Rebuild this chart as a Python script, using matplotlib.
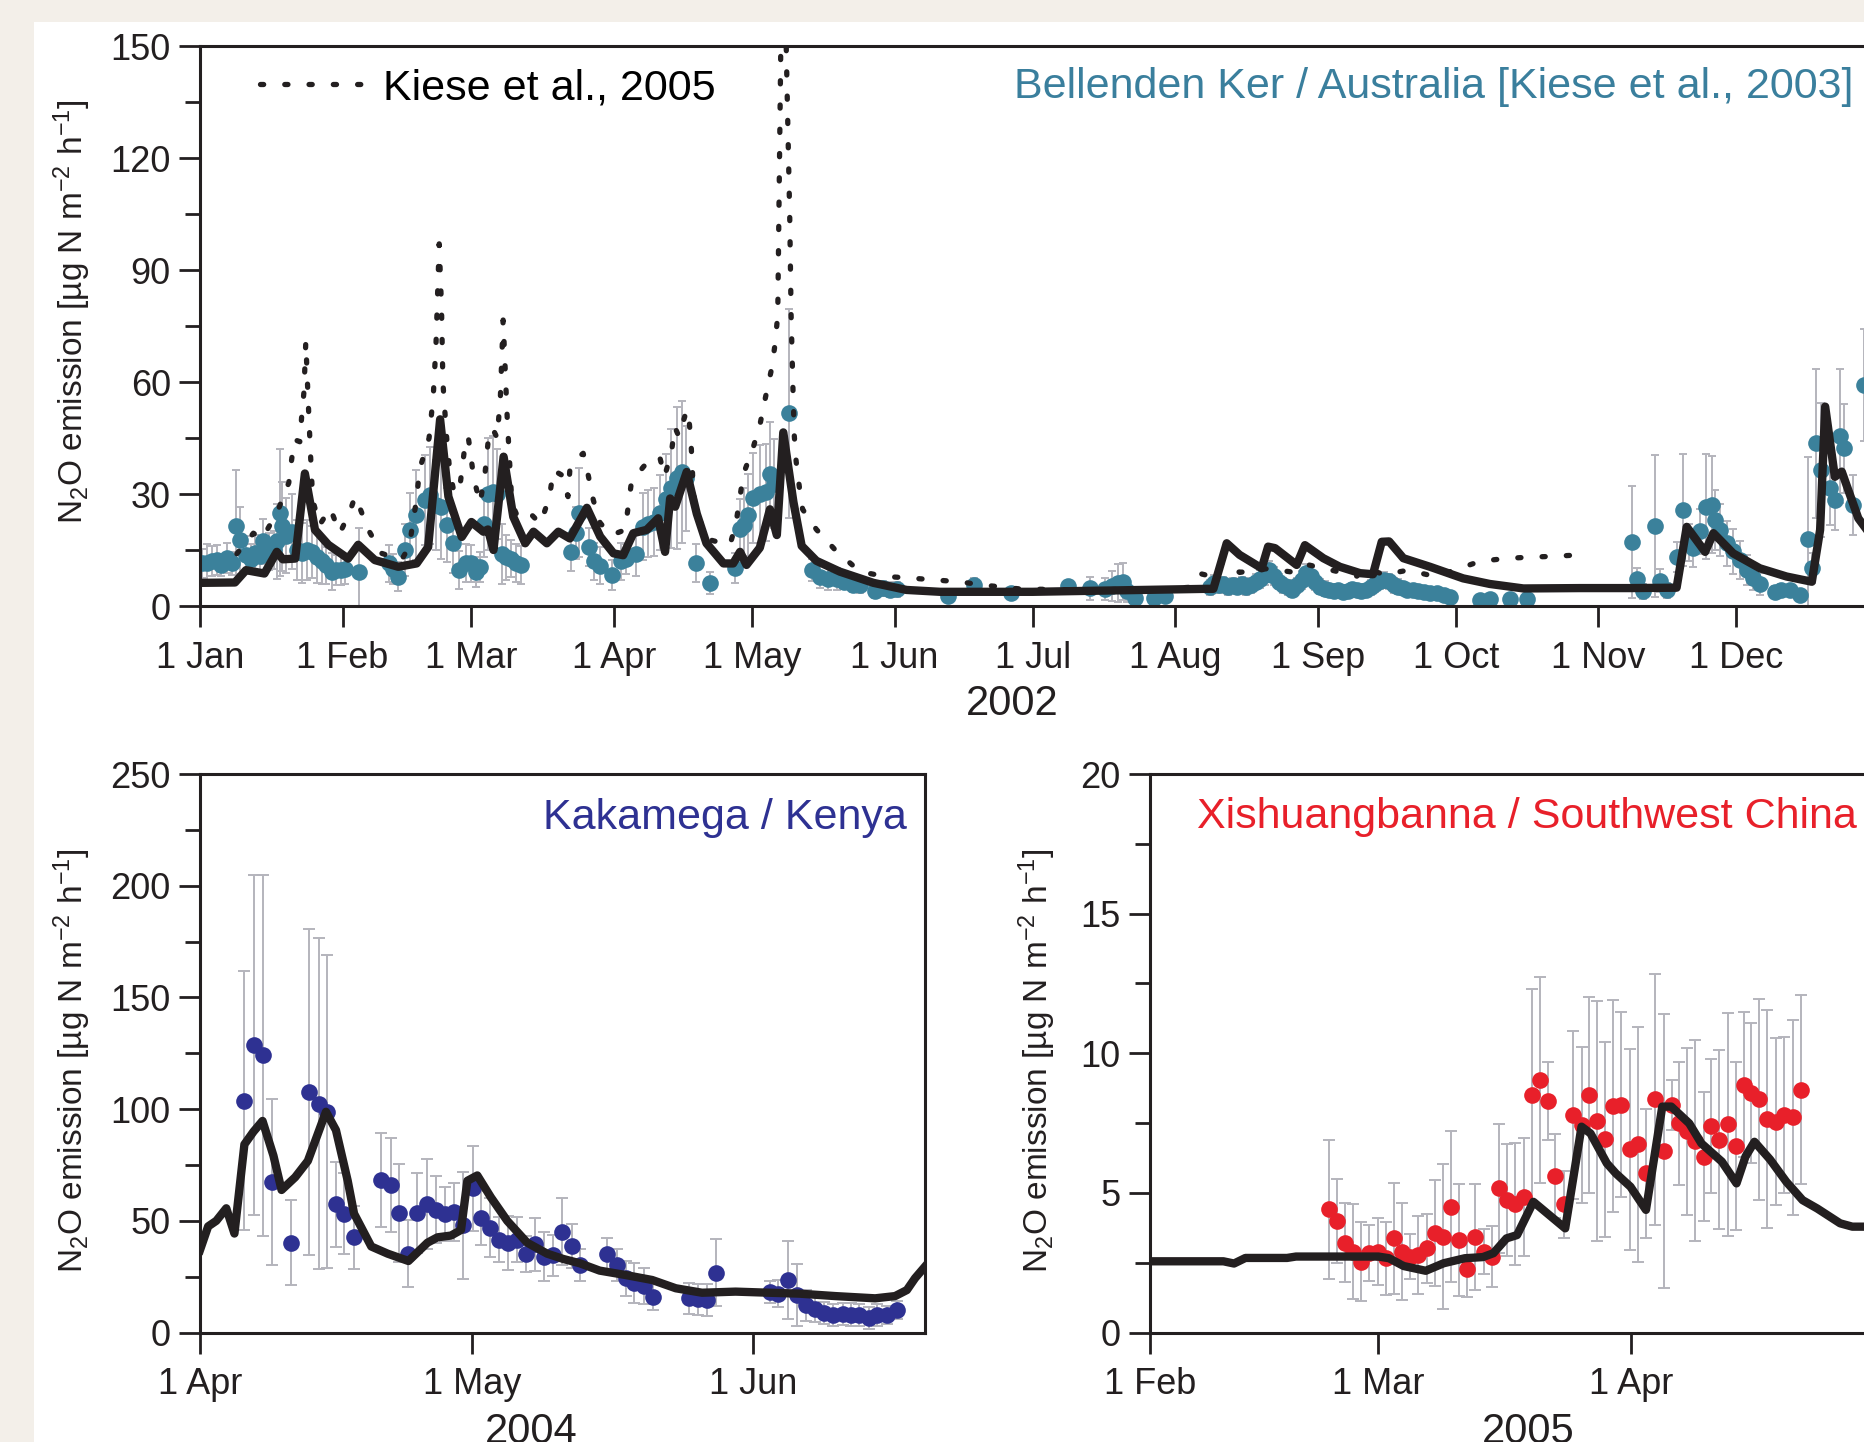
import datetime as dt
import numpy as np
import matplotlib
matplotlib.use("Agg")
import matplotlib.pyplot as plt
import matplotlib.dates as mdates
from matplotlib.patches import Rectangle
from matplotlib.ticker import MultipleLocator, FuncFormatter

plt.rcParams['font.family'] = ['Liberation Sans', 'DejaVu Sans']
plt.rcParams['mathtext.fontset'] = 'custom'
plt.rcParams['mathtext.rm'] = 'Liberation Sans'
plt.rcParams['mathtext.it'] = 'Liberation Sans:italic'
plt.rcParams['mathtext.bf'] = 'Liberation Sans:bold'

# ---------------- Bellenden Ker / Australia, 2002 (day 0 = 1 Jan) ----------------
bk_obs_day = [0.5, 1.6, 2.6, 3.6, 4.6, 5.8, 7.0, 7.8, 8.8, 10.0, 11.0, 12.0, 13.0, 13.8, 14.9, 16.0, 16.7, 17.3,
              17.9, 18.6, 19.9, 21.0, 22.1, 23.2, 24.3, 25.4, 26.5, 27.3, 28.6, 29.6, 30.7, 31.6, 34.6, 41.0, 42.0,
              43.1, 44.6, 45.7, 47.0, 48.9, 50.0, 51.4, 52.5, 53.6, 55.1, 56.2, 57.9, 59.0, 59.9, 60.9, 61.8, 62.7,
              63.7, 64.5, 65.6, 66.6, 67.6, 68.8, 69.8,
              80.7, 81.8, 82.5, 84.5, 85.7, 87.0, 89.6, 91.6, 92.6, 94.8, 96.2, 97.5, 98.6, 100.0, 101.3, 102.5,
              103.6, 104.7, 105.7, 107.8, 110.9,
              116.2, 117.3, 118.2, 119.2, 120.3, 121.8, 123.0, 123.9, 124.7, 128.1, 133.0, 134.8, 136.6, 138.4,
              140.0, 142.0, 143.5, 146.7, 148.5, 150.0, 151.5,
              162.6, 168.3, 176.2, 188.8, 193.5, 196.8, 198.2, 199.6, 200.7, 201.6, 203.2, 207.5, 209.8,
              219.5, 220.5, 221.5, 222.5, 223.5, 224.5, 225.5, 226.5, 227.5, 228.5, 229.5, 230.5, 231.5, 232.5,
              233.5, 234.5, 235.5, 236.5, 237.5, 238.5, 239.5, 240.5, 241.5, 242.5, 243.5, 244.5, 245.5, 246.5,
              247.5, 248.5, 249.5, 250.5, 251.5, 252.5, 253.5, 254.5, 255.5, 256.5, 257.5, 258.5, 259.5, 260.5,
              261.5, 262.5, 263.8, 264.8, 266.0, 267.5, 269.0, 270.5, 271.7,
              278.3, 280.4, 284.8, 288.4,
              311.4, 312.3, 313.8, 316.3, 317.4, 318.9, 321.0, 322.3, 323.6, 324.6, 326.1, 327.5, 328.6, 329.3,
              330.4, 331.9, 333.3, 334.8, 336.2, 337.7, 339.1, 342.4, 343.6, 345.6, 347.8, 349.5, 350.4, 351.3,
              352.4, 354.3, 355.4, 356.5, 357.5, 359.4, 361.7]
bk_obs_val = [11.4, 11.5, 12.0, 12.3, 11.0, 12.8, 11.4, 21.5, 17.6, 13.7, 12.7, 14.1, 13.3, 17.3, 14.6, 15.0, 17.3, 25.0,
              21.3, 18.8, 19.9, 15.0, 14.1, 15.0, 14.5, 13.2, 12.0, 10.9, 9.2, 9.6, 9.6, 10.0, 9.0, 11.4, 10.0,
              7.9, 15.0, 20.4, 24.3, 28.4, 29.7, 27.0, 26.5, 21.7, 16.8, 9.6, 11.5, 11.4, 9.0, 10.5, 22.0, 30.0,
              30.5, 30.0, 14.0, 13.0, 12.7, 11.5, 11.0,
              14.5, 19.5, 25.0, 15.8, 12.0, 10.8, 8.4, 12.0, 12.5, 14.0, 21.2, 22.0, 22.5, 25.0, 28.7, 31.5,
              34.2, 35.9, 34.2, 11.5, 6.1,
              10.2, 20.7, 21.7, 24.3, 29.0, 30.0, 30.5, 35.3, 32.8, 51.6, 9.7, 7.7, 7.2, 7.2,
              6.5, 5.7, 5.5, 4.1, 4.8, 4.4, 4.5,
              2.8, 5.6, 3.4, 5.3, 4.7, 4.5, 5.3, 6.2, 6.5, 4.0, 2.2, 2.2, 2.6,
              5.0, 6.2, 5.5, 5.8, 5.0, 5.6, 5.2, 5.8, 5.0, 5.5, 6.5, 7.2, 8.2, 9.6,
              8.0, 6.5, 5.6, 5.0, 4.4, 5.5, 7.0, 8.8, 8.0, 6.3, 5.2, 4.6, 4.2, 4.0,
              4.4, 3.8, 4.0, 4.6, 4.2, 3.9, 4.4, 5.0, 5.8, 6.6, 7.0, 6.6, 5.6, 5.2,
              4.8, 4.4, 4.2, 4.0, 3.8, 3.6, 3.4, 3.0, 2.4,
              1.6, 2.0, 1.8, 2.0,
              17.2, 7.2, 3.9, 21.4, 6.8, 4.2, 13.2, 25.6, 17.0, 15.5, 20.0, 26.6, 27.1, 23.0,
              20.4, 16.8, 14.6, 12.3, 9.6, 7.4, 5.9, 3.8, 4.4, 4.2, 2.9, 17.9, 10.1, 43.6,
              36.5, 31.6, 28.4, 45.5, 42.2, 27.1, 59.2]
bk_obs_err = [4, 5, 4, 4, 3, 4, 3, 15, 9, 5, 4, 5, 5, 6, 5, 5, 10, 17,
              12, 10, 10, 8, 8, 8, 7, 7, 6, 5, 5, 4, 4, 4, 12, 5, 4,
              4, 7, 10, 12, 12, 13, 12, 14, 10, 8, 5, 5, 5, 4, 4, 9, 15,
              15, 12, 8, 6, 5, 5, 5,
              5, 7, 12, 5, 5, 5, 4, 5, 4, 6, 9, 9, 9, 10, 12, 16,
              19, 19, 14, 5, 3,
              4, 8, 10, 11, 12, 13, 13, 14, 12, 28, 3, 3, 3, 3,
              2, 2, 2, 2, 2, 2, 2,
              1.5, 2, 1.5, 1.5, 3, 3, 4, 5, 5, 3, 1.5, 1.5, 1.5,
              2, 2, 2, 2, 2, 2, 2, 2, 2, 2, 2, 2.5, 2.5, 2.5,
              2.5, 2, 2, 2, 2, 2, 2.5, 2.5, 2.5, 2, 2, 2, 1.5, 1.5,
              1.5, 1.5, 1.5, 1.5, 1.5, 1.5, 1.5, 2, 2, 2, 2, 2, 2, 2,
              1.5, 1.5, 1.5, 1.5, 1.5, 1.5, 1.5, 1, 1,
              1, 1, 1, 1,
              15, 3, 2, 19, 3, 2, 4, 15, 5, 5, 6, 14, 13, 8,
              7, 6, 6, 5, 4, 3, 3, 1.5, 1.5, 1.5, 1.5, 22, 4, 20,
              18, 10, 8, 18, 12, 8, 15]

bk_model_day = [0, 7.6, 10, 14, 16.7, 18, 20.7, 22.8, 25, 27.9, 32.2, 34.4, 38, 43.1, 47.1, 49.6, 52.2, 54, 56.9,
                59, 61.6, 62.6, 63.8, 66, 68.1, 70.7, 72.5, 75.4, 77.9, 80.4, 84.1, 87, 89.9, 92, 94.2, 97.1,
                99.6, 101.1, 102.2, 103.3, 105.8, 108, 110.1, 113.8, 115.9, 117.4, 118.8, 121.7, 123.9, 125.4,
                126.8, 129, 130.8, 134, 139.1, 146.4, 153.6, 160.9, 181, 200, 219, 220.3, 223.2, 226, 230.8,
                232.2, 233.7, 238.4, 240.2, 244.2, 247.8, 252.2, 255, 256.9, 258.5, 261.6, 267.4, 274.6, 280.4,
                287.7, 300, 310.9, 321, 323.2, 327.2, 329, 333.3, 339.1, 344.9, 350.4, 352.2, 353.3, 355.4,
                356.9, 360.5, 362, 365]
bk_model_val = [6.2, 6.3, 9.6, 8.7, 14.5, 12.5, 12.7, 35.5, 20.4, 16.4, 12.7, 16.4, 12.3, 10.5, 11.4, 15.8, 50, 29.3,
                18.5, 22.5, 19.9, 20.5, 15, 40, 23.9, 16.8, 19.9, 16.8, 19.9, 18.1, 26.3, 18.6, 14.1, 13.6, 19.5,
                20.4, 23.5, 14.5, 28.8, 26.6, 35.9, 24.7, 16.8, 11.4, 11.4, 14.5, 11.0, 15.6, 25.9, 19.0,
                46.5, 27.9, 16.1, 12.1, 9.2, 6.2, 4.3, 3.8, 3.8, 4.2, 4.6, 4.6, 16.8, 13.7, 10.1,
                15.9, 15.5, 11.0, 16.3, 12.8, 10.5, 8.8, 8.5, 17.2, 17.3, 12.8, 10.5, 7.4, 5.9,
                4.7, 4.8, 4.8, 4.9, 21.2, 14.5, 19.5, 14.1, 10.1, 7.9, 6.5, 20.4, 53.4, 34.6,
                36.0, 23.5, 21.0, 20.0]

kiese05_day = [8, 10, 11.6, 13.5, 15.2, 16.7, 18, 19.3, 19.9, 20.5, 21.7, 22.1, 22.6, 23, 23.5, 24, 24.5, 26, 28.3,
               30.4, 32.5, 33.7, 34.4, 36.6, 39.5, 43.8, 45.5, 47, 47.8, 48.6, 49.8, 50.7, 51.3, 51.7, 52, 52.5,
               52.8, 53.6, 54.3, 55.3, 56.6, 57.5, 58.3, 58.8, 59.5, 60.9, 62, 62.7, 63.6, 64.6, 65.3, 65.9, 66.4,
               66.8, 67.2, 67.8, 69, 71.4, 74, 76, 76.8, 78.6, 80, 80.4, 81.5, 83.3, 84.4, 85.5, 87, 89.5, 92.4,
               93.1, 93.8, 96.4, 98.5, 100, 101, 102.5, 103.2, 104.1, 105.8, 106.3, 106.7, 107, 107.2, 108, 110.9,
               115.2, 116.5, 117.4, 118.1, 120.3, 121.8, 123, 124.2, 125, 125.6, 126.4, 127.2, 127.6, 128.2,
               128.5, 128.9, 129.2, 129.6, 130.3, 131, 134, 138.4, 143.5, 149, 154.4, 159.5, 165, 170.3, 178, 190,
               210, 215, 217, 220, 222.5, 226, 232, 238, 241, 246, 251.5, 253, 257.5, 262.6, 268.5, 273.2, 278.3,
               283.7, 289, 294.3, 299.9]
kiese05_val = [14, 17, 19.5, 18, 21.7, 24.8, 29, 33, 39, 44.6, 44, 50.7, 57.4, 70.8, 55.6, 41.3, 28.4, 21.7, 26.2,
               19.5, 25, 29.3, 27.4, 20.4, 14.1, 12.3, 16, 28, 37, 40, 45, 56, 70, 85, 97, 80,
               60, 45.4, 36, 30, 33, 42, 45.4, 41, 34.2, 27.5, 36, 44.9, 47.6, 45, 56, 76.6, 62,
               50, 40.9, 27.5, 24, 25.3, 22, 29.3, 36.4, 35.1, 29.3, 36.4, 39, 40.9, 35, 28.4, 22.2, 19, 20.4,
               26.7, 33.3, 37.3, 40, 39.6, 34.7, 41.3, 48, 45.4, 52.5, 50, 44.5, 38, 31, 24.3, 17.7,
               16.3, 22, 29.3, 35.2, 42.6, 49, 56.3, 63.2, 70, 78, 165, 165, 140, 104.5,
               78, 58.3, 45.5, 38.7, 31.8, 25.9, 20.5, 14.6, 9.2, 7.9, 7.5, 7.0, 6.5, 5.6, 4.6, 4.3,
               4.6, 5.0, 8.8, 7.9, 12, 9, 10, 9, 11, 9.6, 8.0, 10.2, 8.4, 9.6, 7.9, 9.8, 12,
               12.7, 13.1, 13.3, 13.7]

# ---------------- Kakamega / Kenya, 2004 (day 0 = 1 Apr) ----------------
kk_obs_day = [4.9, 6.0, 6.9, 8.0, 10.0, 12.0, 13.1, 14.0, 15.0, 15.9, 17.0, 20.0, 21.1, 22.0, 23.0, 24.0, 25.0,
              26.0, 27.0, 28.0, 29.0, 30.1, 31.0, 32.0, 33.0, 34.0, 35.0, 36.0, 37.0, 38.0, 39.0, 40.0, 41.0, 41.9,
              44.9, 46.0, 47.0, 47.9, 49.0, 50.0, 54.0, 55.0, 56.0, 56.9, 62.9, 63.8, 64.9, 65.9, 66.9, 67.9,
              68.9, 69.8, 70.9, 71.8, 72.7, 73.8, 74.7, 75.8, 76.9]
kk_obs_val = [103.7, 128.6, 124.0, 67.4, 40.2, 107.7, 102.4, 98.8, 57.3, 53.2, 42.6, 68.2, 66.2, 53.5, 35.3, 53.5,
              57.6, 55.0, 53.0, 54.0, 48.0, 64.6, 51.2, 47.0, 41.5, 40.2, 41.5, 35.3, 39.4, 34.0, 34.5, 45.1,
              38.7, 30.2, 35.1, 30.2, 24.2, 22.0, 20.8, 16.0, 15.3, 14.8, 14.5, 26.7, 18.2, 17.4, 23.4, 16.7,
              12.2, 10.7, 8.8, 7.7, 8.4, 8.0, 7.7, 6.6, 7.7, 7.7, 9.9]
kk_obs_err = [58, 76, 81, 37, 19, 73, 74, 70, 19, 18, 14, 21, 21, 22, 15, 18, 20, 15, 12, 13, 24, 19, 12, 13, 10,
              12, 10, 8, 12, 11, 9, 15, 10, 7, 7, 7, 8, 9, 8, 6, 7, 7, 7, 15, 5, 6, 17.5, 14, 7, 6, 5, 5, 5, 5,
              5, 5, 5, 4, 4]
kk_model_day = [0, 0.9, 1.8, 2.9, 3.8, 4.9, 5.9, 6.9, 8.1, 9.0, 10.5, 11.9, 13.9, 15.0, 16.3, 17.0, 18.9, 20.7,
                23.0, 25.1, 26.2, 27.7, 28.8, 29.5, 30.6, 32.1, 33.9, 36.1, 38.3, 40.1, 41.9, 44.1, 47, 49.9,
                52.5, 55.4, 59.1, 62.8, 66.1, 70.1, 74.5, 76.7, 78, 78.9, 80]
kk_model_val = [36.9, 47.5, 50, 55.6, 44.3, 84.2, 89.9, 94.7, 79.2, 63.8, 69.5, 76.8, 98.8, 90.6, 67.9, 53.2, 38.5,
                35.3, 32, 40.2, 42.6, 43.4, 45.9, 67.9, 70.3, 60.5, 50, 40.2, 35.3, 32.9, 31, 27.7, 25.7, 23.5,
                19.8, 17.8, 18.3, 17.8, 17.4, 16.3, 15.3, 16.3, 19, 24.3, 29.5]

# ---------------- Xishuangbanna / Southwest China, 2005 (day 0 = 1 Feb) ----------------
xs_obs_day = [22.0, 22.9, 23.9, 24.9, 25.9, 26.9, 28.0, 28.9, 29.9, 30.9, 31.9, 32.8, 33.9, 34.9, 35.9, 36.9,
              37.9, 38.9, 39.8, 40.9, 41.9, 42.8, 43.8, 44.8, 45.8, 46.8, 47.8, 48.8, 49.7, 50.8, 51.8, 52.9,
              53.8, 54.8, 55.8, 56.8, 57.8, 58.8, 59.8, 60.8, 61.9, 63.0, 64.0, 64.9, 65.8, 66.8, 67.9, 68.8,
              69.8, 70.8, 71.8, 72.8, 73.7, 74.7, 75.6, 76.7, 77.7, 78.8, 79.8]
xs_obs_val = [4.41, 4.00, 3.22, 2.90, 2.54, 2.84, 2.90, 2.66, 3.37, 2.90, 2.72, 2.78, 3.01, 3.55, 3.43, 4.50,
              3.31, 2.26, 3.43, 2.90, 2.72, 5.16, 4.74, 4.60, 4.85, 8.50, 9.04, 8.30, 5.60, 4.60, 7.79, 7.43,
              8.50, 7.57, 6.92, 8.10, 8.16, 6.56, 6.74, 5.70, 8.35, 6.50, 8.14, 7.49, 7.20, 6.86, 6.30, 7.40,
              6.90, 7.45, 6.68, 8.87, 8.57, 8.35, 7.64, 7.55, 7.79, 7.70, 8.70]
xs_obs_err = [2.5, 1.5, 1.4, 1.7, 1.4, 1.0, 1.2, 1.3, 2.0, 1.75, 0.8, 1.4, 1.25, 1.9, 2.6, 2.7,
              2.0, 1.0, 1.9, 0.8, 1.1, 2.3, 2.0, 2.2, 2.1, 3.8, 3.7, 1.4, 1.5, 1.2, 3.0, 2.8,
              3.5, 4.3, 3.5, 3.8, 3.3, 3.6, 4.2, 2.3, 4.5, 4.9, 0.9, 2.2, 3.0, 3.6, 2.3, 2.4,
              3.2, 4.0, 3.0, 2.6, 2.5, 3.6, 3.9, 3.0, 2.8, 3.5, 3.4]
xs_model_day = [0, 6, 9, 10.3, 11.7, 16.8, 17.9, 28, 29.3, 31.1, 33.8, 36, 38.6, 40.8, 42.1, 43.7, 45, 47, 50.9,
                52.9, 54, 56, 57.1, 58.9, 60.8, 62.8, 63.9, 66.1, 67.6, 70.1, 71.9, 73, 74.1, 76, 78, 80, 81.8,
                84.6, 86.1, 89]
xs_model_val = [2.55, 2.55, 2.55, 2.47, 2.67, 2.67, 2.72, 2.72, 2.66, 2.38, 2.21, 2.48, 2.66, 2.7, 2.84, 3.37,
                3.49, 4.68, 3.73, 7.37, 7.13, 6.06, 5.7, 5.22, 4.39, 8.09, 8.09, 7.49, 6.77, 6.12, 5.34, 6.3,
                6.83, 6.2, 5.4, 4.74, 4.44, 3.91, 3.79, 3.79]

# month ticks shown on each panel (first day of month)
bk_ticks = [(2002, m) for m in range(1, 13)]
kk_ticks = [(2004, 4), (2004, 5), (2004, 6)]
xs_ticks = [(2005, 2), (2005, 3), (2005, 4)]

ylabel = 'N$_2$O emission [µg N m$^{-2}$ h$^{-1}$]'
ink = '#231f20'
bar_grey = '#b4b4bc'


def to_num(start, days):
    return mdates.date2num(start) + np.asarray(days, dtype=float)


def month_fmt(x, pos):
    d = mdates.num2date(x)
    return f"{d.day} {d.strftime('%b')}"


def style_axes(ax, start, ndays, ticks, ymax, ymajor, yminor):
    ax.set_xlim(to_num(start, 0), to_num(start, ndays))
    ax.set_ylim(0, ymax)
    ax.set_xticks([mdates.date2num(dt.date(y, m, 1)) for y, m in ticks])
    ax.xaxis.set_major_formatter(FuncFormatter(month_fmt))
    ax.yaxis.set_major_locator(MultipleLocator(ymajor))
    ax.yaxis.set_minor_locator(MultipleLocator(yminor))
    for s in ax.spines.values():
        s.set_linewidth(2.2)
        s.set_color(ink)
    ax.tick_params(which='major', direction='out', length=15, width=2, labelsize=26, pad=6, colors=ink)
    ax.tick_params(axis='x', which='major', pad=10)
    ax.tick_params(which='minor', direction='out', length=11, width=2, colors=ink)
    ax.tick_params(axis='x', which='minor', length=0)
    ax.set_facecolor('white')


def draw_obs(ax, x, y, err, color, cap):
    ax.errorbar(x, y, yerr=err, fmt='none', ecolor=bar_grey, elinewidth=1.4, capsize=cap, capthick=1.4, zorder=1)
    ax.plot(x, y, 'o', color=color, ms=12, mec='none', zorder=2)


fig = plt.figure(figsize=(18.64, 14.42), dpi=100, facecolor='#f3efe9')
fig.patches.append(Rectangle((34 / 1864, 0), 1, 1 - 22 / 1442, transform=fig.transFigure,
                             facecolor='white', edgecolor='none', zorder=-5))

# ---- top panel ----
start_bk = dt.date(2002, 1, 1)
ax1 = fig.add_axes([200 / 1864, 1 - 606 / 1442, 1679 / 1864, 560 / 1442])
style_axes(ax1, start_bk, 365, bk_ticks, 150, 30, 15)
draw_obs(ax1, to_num(start_bk, bk_obs_day), bk_obs_val, bk_obs_err, '#3b819b', 3)
ax1.plot(to_num(start_bk, bk_model_day), bk_model_val, color=ink, lw=6, solid_joinstyle='round', zorder=3)
kl, = ax1.plot(to_num(start_bk, kiese05_day), kiese05_val, color=ink, lw=3.8, dashes=(0.6, 4.0),
               dash_capstyle='round', zorder=4)
ax1.legend([kl], ['Kiese et al., 2005'], loc='center left', bbox_to_anchor=(0.0357, 0.924), frameon=False,
           fontsize=31, handlelength=2.45, handletextpad=0.4, borderpad=0, borderaxespad=0)
ax1.text(0.9848, 0.908, 'Bellenden Ker / Australia [Kiese et al., 2003]', transform=ax1.transAxes,
         ha='right', va='baseline', fontsize=31, color='#3a7f9d')
ax1.text(0.484, -0.195, '2002', transform=ax1.transAxes, ha='center', va='baseline', fontsize=30, color=ink)
ax1.set_ylabel(ylabel, fontsize=24, color=ink)
ax1.yaxis.set_label_coords(-0.064, 0.526)

# ---- bottom left ----
start_kk = dt.date(2004, 4, 1)
ax2 = fig.add_axes([200 / 1864, 1 - 1332.5 / 1442, 725 / 1864, 558.5 / 1442])
style_axes(ax2, start_kk, 80, kk_ticks, 250, 50, 25)
draw_obs(ax2, to_num(start_kk, kk_obs_day), kk_obs_val, kk_obs_err, '#2e3192', 4)
ax2.plot(to_num(start_kk, kk_model_day), kk_model_val, color=ink, lw=6, solid_joinstyle='round', zorder=3)
ax2.text(0.9746, 0.9015, 'Kakamega / Kenya', transform=ax2.transAxes, ha='right', va='baseline',
         fontsize=31, color='#2e3192')
ax2.text(0.457, -0.198, '2004', transform=ax2.transAxes, ha='center', va='baseline', fontsize=30, color=ink)
ax2.set_ylabel(ylabel, fontsize=24, color=ink)
ax2.yaxis.set_label_coords(-0.148, 0.486)

# ---- bottom right ----
start_xs = dt.date(2005, 2, 1)
ax3 = fig.add_axes([1150 / 1864, 1 - 1332.5 / 1442, 726 / 1864, 558.5 / 1442])
style_axes(ax3, start_xs, 89, xs_ticks, 20, 5, 2.5)
draw_obs(ax3, to_num(start_xs, xs_obs_day), xs_obs_val, xs_obs_err, '#e8202a', 4)
ax3.plot(to_num(start_xs, xs_model_day), xs_model_val, color=ink, lw=6, solid_joinstyle='round', zorder=3)
ax3.text(0.973, 0.904, 'Xishuangbanna / Southwest China', transform=ax3.transAxes, ha='right', va='baseline',
         fontsize=31, color='#e8202a')
ax3.text(0.521, -0.198, '2005', transform=ax3.transAxes, ha='center', va='baseline', fontsize=30, color=ink)
ax3.set_ylabel(ylabel, fontsize=24, color=ink)
ax3.yaxis.set_label_coords(-0.127, 0.486)

fig.savefig('out.png', dpi=100, facecolor=fig.get_facecolor())
